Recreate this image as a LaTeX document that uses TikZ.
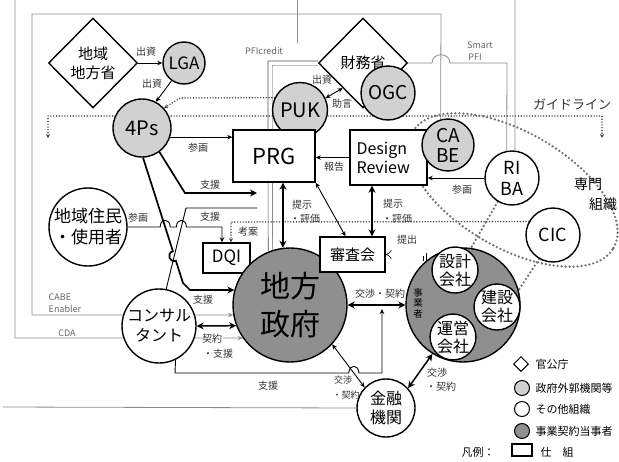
\documentclass[tikz,border=0pt]{standalone}
\usepackage{fontspec}
\setmainfont{Noto Sans CJK JP}
\usetikzlibrary{shapes.geometric,arrows.meta,backgrounds,calc}
\definecolor{lgray}{gray}{0.82}
\definecolor{dgray}{gray}{0.56}
\definecolor{frm}{gray}{0.55}
\newcommand{\myfs}[2]{\fontsize{#1}{#2}\selectfont}
\begin{document}
\begin{tikzpicture}[x=1pt,y=-1pt,
  bx/.style={draw,line width=1.4pt,fill=white,inner sep=0pt,align=center},
  cc/.style={circle,draw,line width=1.4pt,inner sep=0pt,align=center,fill=white},
  dm/.style={diamond,draw,line width=1.4pt,inner sep=0pt,align=center,fill=white},
  lbl/.style={inner sep=0.5pt,align=center,font=\myfs{10}{11},text=black!80},
  glbl/.style={inner sep=0.5pt,font=\myfs{9}{10},text=black!60},
  ln/.style={line width=0.9pt},
  ar/.style={-{Stealth[length=5pt,width=4.5pt]}},
  dar/.style={{Stealth[length=5pt,width=4.5pt]}-{Stealth[length=5pt,width=4.5pt]}},
  tk/.style={line width=1.7pt},
  tar/.style={-{Stealth[length=7pt,width=7pt]}},
  tdar/.style={{Stealth[length=7pt,width=7pt]}-{Stealth[length=7pt,width=7pt]}},
  dots/.style={line width=1.6pt,dash pattern=on 0pt off 2.8pt,line cap=round,draw=black!75},
  gdots/.style={line width=2.6pt,dash pattern=on 0pt off 4pt,line cap=round,draw=black!55},
  frame/.style={draw=frm,line width=0.8pt},
  pfi/.style={draw=black!70,line width=0.6pt,double=white,double distance=3.5pt},
]
\useasboundingbox (0,0) rectangle (619,461);

% ---------- nodes ----------
\node[dm,minimum width=89pt,minimum height=90pt,font=\myfs{15}{19}] (chiiki) at (93,63) {地域\\地方省};
\node[cc,fill=lgray,minimum size=42pt,font=\myfs{17}{20}] (lga) at (184,63) {LGA};
\node[cc,fill=lgray,minimum size=58pt,font=\myfs{20}{22}] (fourps) at (142,128) {4Ps};
\node[cc,fill=lgray,minimum size=55pt,font=\myfs{20}{22}] (puk) at (300,110) {PUK};
\node[dm,minimum width=89pt,minimum height=90pt,font=\myfs{15}{18}] (zaimu) at (363,63) {財務省};
\node[cc,fill=lgray,minimum size=54pt,font=\myfs{19}{21}] (ogc) at (388,93) {OGC};
\node[bx,minimum width=82pt,minimum height=52pt,font=\myfs{22}{24}] (prg) at (274,156) {PRG};
\node[bx,minimum width=77pt,minimum height=55pt,font=\myfs{16}{19},text width=64pt,align=left] (dr) at (388.5,157.5) {Design\\Review};
\node[cc,fill=lgray,minimum size=52pt,font=\myfs{19}{20}] (cabe) at (448,145) {CA\\BE};
\node[cc,minimum size=54pt,font=\myfs{18}{21}] (riba) at (512,178) {RI\\BA};
\node[cc,minimum size=54pt,font=\myfs{18}{20}] (cic) at (553,235) {CIC};
\node[font=\myfs{14}{16}] (senmon1) at (588,184) {専門};
\node[font=\myfs{14}{16}] (senmon2) at (603,204) {組織};
\node[cc,minimum size=78pt,font=\myfs{17}{21}] (jumin) at (88,227) {地域住民\\・使用者};
\node[bx,minimum width=47pt,minimum height=30pt,font=\myfs{17}{20}] (dqi) at (226.5,258) {DQI};
\node[cc,fill=dgray,minimum size=114pt,font=\myfs{30}{38}] (chiho) at (290,305) {地方\\政府};
\node[bx,minimum width=65pt,minimum height=35pt,font=\myfs{15}{18}] (shinsa) at (352.5,254.5) {審査会};
\node[cc,fill=dgray,minimum size=114pt] (jigyo) at (463,305) {};
\node[font=\myfs{9.5}{10.5},inner sep=0pt,align=center] (jigyolbl) at (418,303) {事\\業\\者};
\node[cc,minimum size=46pt,font=\myfs{16}{18}] (sekkei) at (455,270) {設計\\会社};
\node[cc,minimum size=46pt,font=\myfs{16}{18}] (kensetsu) at (497,307) {建設\\会社};
\node[cc,minimum size=44pt,font=\myfs{16}{18}] (unei) at (453,337) {運営\\会社};
\node[cc,minimum size=74pt,font=\myfs{16}{20}] (consul) at (159,326) {コンサル\\タント};
\node[cc,minimum size=58pt,font=\myfs{16}{19}] (kinyu) at (386,408) {金融\\機関};

% ---------- coordinates for free ends ----------
\coordinate (cdaTop) at (15,0);
\coordinate (topA) at (297,0);
\coordinate (topAend) at (297,43);
\coordinate (topB) at (515,0);
\coordinate (gl1) at (48,138);
\coordinate (gl2) at (602,138);
\coordinate (pfiA) at (257,193);
\coordinate (pfiB) at (257,208);
\coordinate (negoUp) at (382,309);
\coordinate (botL) at (3,407);

% ---------- connectors (behind nodes) ----------
\begin{scope}[on background layer]
\draw[frame] (topA) -- (topAend);
\draw[frame] (topB) -- (riba.84);
\draw[frame,ar] (cdaTop) -- (15,338) -- (chiho.215);
\draw[frame,ar] (cabe.106) -- (441,14) -- (32,14) -- (32,315) -- (chiho.190);
\draw[frame] (zaimu.east) -- (432,63) .. controls (432,52) and (450,52) .. (450,63) -- (507,63) -- (riba.101);
\draw[frame] (botL) -- (kinyu.west);
\draw[pfi] (zaimu.west) -- (270,63) -- (chiho.110);

\draw[dots,{Stealth[length=4pt,width=4pt]}-{Stealth[length=4pt,width=4pt]}] (gl1) -- (48,116) -- (602,116) -- (gl2);
\draw[dots,-{Stealth[length=4pt,width=4pt]}] (puk.154) -- (180,98) -- (fourps.42);
\draw[dots,-{Stealth[length=4pt,width=4pt]}] (cic.151) -- (231,222) -- ($(dqi.north)+(4.5,0)$);
\draw[gdots,rotate around={-30:(513,190)}] (513,190) ellipse [x radius=116pt,y radius=58pt];
\draw[gdots] (riba.239) -- (sekkei.53);
\draw[gdots] (cic.240) -- (kensetsu.35);

\draw[ln,ar] (chiiki.east) -- (lga.west);
\draw[ln,ar] (lga.235) -- (fourps.62);
\draw[ln,dar] (puk.25) -- ($(zaimu.west)!0.55!(zaimu.south)$);
\draw[ln,ar] (fourps.-18) -- (fourps.-18 -| prg.west);
\draw[tk,tar] (fourps.-54) -- (185,193) -- (pfiA);
\draw[tk,tar] (fourps.-88) -- (172.9,251.2) .. controls (166.2,253.3) and (169.2,262.9) .. (175.9,260.8) -- (183,283) -- (190,290) -- (chiho.165);
\draw[ln] (consul.79) -- (186,208) -- (pfiB);
\draw[ln,ar] (jumin.east) -- (160.2,227) .. controls (160.2,218) and (170.2,218) .. (170.2,227) -- (176.4,227) .. controls (176.4,218) and (186.4,218) .. (186.4,227) -- (222,227) -- ($(dqi.north)+(-4.5,0)$);
\draw[tk,tdar] ($(prg.south)+(9,0)$) -- (chiho.97);
\draw[ln,dar] (prg.south east) -- ($(shinsa.north)+(-7,0)$);
\draw[line width=1.5pt,tdar] ($(dr.south)+(-16.5,0)$) -- ($(shinsa.north)+(19.5,0)$);
\draw[ln,ar] (dr.west) -- (dr.west -| prg.east);
\draw[ln,ar] (riba.west) -- (riba.west -| dr.east);
\draw[draw=black,line width=0.6pt,double=white,double distance=2.5pt,-{Implies}] (jigyo.131) |- (shinsa.east);
\draw[tk,tdar] (chiho.east) -- (jigyo.west);
\draw[ln,dar] (chiho.-43) -- (kinyu.136);
\draw[ln,ar] (consul.-64) -- (175,373) -- (348.8,373) .. controls (348.8,364) and (358.8,364) .. (358.8,373) -- (382,373) -- (negoUp);
\draw[line width=1.5pt,tdar] (jigyo.238) -- (kinyu.42);
\draw[line width=1.5pt,tdar] (consul.east) -- (chiho.201);
\end{scope}

% ---------- labels ----------
\node[lbl] (l1) at (146,52) {出資};
\node[lbl] (l2) at (152,84) {出資};
\node[lbl] (l3) at (198,148) {参画};
\node[lbl] (l4) at (210,185) {支援};
\node[lbl] (l5) at (210,217) {支援};
\node[lbl] (l6) at (138,218) {参画};
\node[lbl] (l7) at (248,232) {考案};
\node[lbl] (l8) at (203,300) {支援};
\node[lbl,fill=white] (l9) at (212,339) {契約};
\node[lbl] (l10) at (218,354) {・支援};
\node[lbl] (l11) at (268,386) {支援};
\node[lbl] (l12) at (302,205) {提示};
\node[lbl] (l13) at (305,219) {・評価};
\node[lbl] (l14) at (393,204) {提示};
\node[lbl] (l15) at (397,219) {・評価};
\node[lbl] (l16) at (334,167) {報告};
\node[lbl] (l17) at (407,240) {提出};
\node[lbl] (l18) at (380,294) {交渉・契約};
\node[lbl] (l19) at (462,190) {参画};
\node[lbl,font=\myfs{9}{10}] (l20) at (343,380) {交渉};
\node[lbl,font=\myfs{9}{10}] (l21) at (346,395) {・契約};
\node[lbl] (l22) at (437,373) {交渉};
\node[lbl] (l23) at (441,387) {・契約};
\node[lbl] (l24) at (322,80) {出資};
\node[lbl] (l25) at (342,104) {助言};
\node[glbl] (g1) at (264,51) {PFIcredit};
\node[glbl] (g2) at (480,45) {Smart};
\node[glbl] (g3) at (475,57) {PFI};
\node[glbl,anchor=west] (g4) at (48,297) {CABE};
\node[glbl,anchor=west] (g5) at (48,309) {Enabler};
\node[glbl] (g6) at (67,333) {CDA};
\node[font=\myfs{13}{14},text=black!80] (guide) at (572,104) {ガイドライン};

% ---------- legend ----------
\node[dm,minimum width=15pt,minimum height=15pt,line width=1pt] (lg1) at (521,364) {};
\node[anchor=west,font=\myfs{11}{12}] (lg1t) at (532,364) {官公庁};
\node[cc,fill=lgray,minimum size=15pt,line width=1pt] (lg2) at (522,388) {};
\node[anchor=west,font=\myfs{11}{12}] (lg2t) at (532,388) {政府外郭機関等};
\node[cc,minimum size=15pt,line width=1pt] (lg3) at (522,409) {};
\node[anchor=west,font=\myfs{11}{12}] (lg3t) at (532,409) {その他組織};
\node[cc,fill=dgray,minimum size=15pt,line width=1pt] (lg4) at (522,431) {};
\node[anchor=west,font=\myfs{11}{12}] (lg4t) at (532,431) {事業契約当事者};
\node[font=\myfs{11}{12}] (hanrei) at (478,452) {凡例：};
\node[draw,line width=1.2pt,minimum width=20pt,minimum height=12pt,inner sep=0pt] (lgbox) at (522,450) {};
\node[anchor=west,font=\myfs{11}{12}] (lg5t) at (537,452) {仕　組};
\end{tikzpicture}
\end{document}
